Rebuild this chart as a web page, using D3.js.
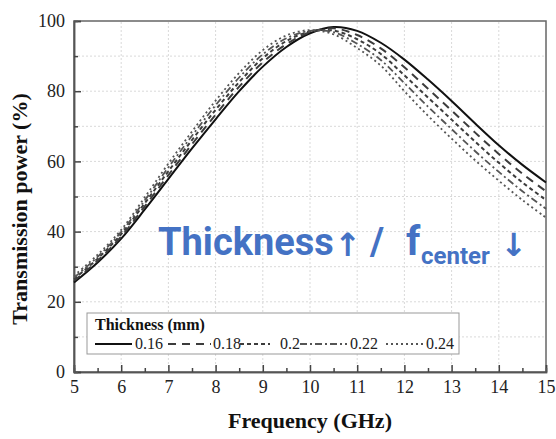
<!DOCTYPE html>
<html>
<head>
<meta charset="utf-8">
<script src="https://cdn.jsdelivr.net/npm/d3@7"></script>
<style>
  body { margin: 0; background: #fff; }
  svg { display: block; }
</style>
</head>
<body>
<div id="chart"></div>
<script>
// Values
const freq = [5, 5.5, 6, 6.5, 7, 7.5, 8, 8.5, 9, 9.5, 10, 10.5, 11, 11.5, 12, 12.5, 13, 13.5, 14, 14.5, 15];
const thickness = ["0.16", "0.18", "0.2", "0.22", "0.24"];
const t016 = [25.5, 31.2, 38.0, 46.3, 55.0, 63.7, 72.0, 80.0, 87.0, 92.6, 96.5, 98.3, 97.2, 93.8, 89.0, 83.3, 77.2, 70.8, 64.6, 59.0, 54.0];
const t018 = [26.0, 31.7, 38.6, 47.2, 56.1, 64.9, 73.3, 81.3, 88.2, 93.4, 96.8, 97.9, 96.0, 92.2, 86.8, 80.7, 74.5, 68.2, 62.1, 56.5, 51.5];
const t020 = [26.5, 32.3, 39.3, 48.1, 57.2, 66.1, 74.7, 82.6, 89.4, 94.3, 97.0, 97.3, 94.8, 90.6, 84.5, 78.2, 71.9, 65.6, 59.6, 54.0, 49.0];
const t022 = [26.9, 32.8, 39.9, 48.9, 58.3, 67.3, 76.0, 83.9, 90.5, 95.1, 97.2, 96.8, 93.5, 88.9, 82.3, 75.6, 69.2, 62.9, 57.0, 51.5, 46.5];
const t024 = [27.4, 33.4, 40.5, 49.8, 59.4, 68.5, 77.3, 85.2, 91.7, 95.9, 97.4, 96.2, 92.3, 87.3, 80.0, 73.0, 66.5, 60.3, 54.5, 49.0, 44.0];
const xTicks = [5, 6, 7, 8, 9, 10, 11, 12, 13, 14, 15];
const yTicks = [0, 20, 40, 60, 80, 100];

const seriesValues = [t016, t018, t020, t022, t024];
const dashes = [null, "8,6", "4,3", "7,3,2,3", "2,3"];
const colors = ["#111", "#3c3c3c", "#3c3c3c", "#555", "#555"];
const widths = [2, 2, 2, 1.8, 1.8];

const w = 556, h = 439;
const margin = { left: 74, right: 10, top: 21, bottom: 67 };
const serif = "'Liberation Serif', 'Times New Roman', serif";

const svg = d3.select("#chart").append("svg")
  .attr("width", w)
  .attr("height", h);

const x = d3.scaleLinear().domain([5, 15]).range([margin.left, w - margin.right]);
const y = d3.scaleLinear().domain([0, 100]).range([h - margin.bottom, margin.top]);

// grid
const grid = svg.append("g").attr("stroke", "#d9d9d9").attr("stroke-width", 1).attr("stroke-dasharray", "2,2");
grid.selectAll("line.vx")
  .data(d3.range(6, 15))
  .enter().append("line")
  .attr("x1", d => x(d)).attr("x2", d => x(d))
  .attr("y1", y(0)).attr("y2", y(100));
grid.selectAll("line.hy")
  .data(d3.range(10, 100, 10))
  .enter().append("line")
  .attr("x1", x(5)).attr("x2", x(15))
  .attr("y1", d => y(d)).attr("y2", d => y(d));

// frame
svg.append("rect")
  .attr("x", x(5)).attr("y", y(100))
  .attr("width", x(15) - x(5)).attr("height", y(0) - y(100))
  .attr("fill", "none").attr("stroke", "#666").attr("stroke-width", 1.5);

// axes with inward ticks
const xAxis = d3.axisBottom(x).tickValues(xTicks).tickSize(-7).tickPadding(8).tickFormat(d3.format("d"));
const xMinor = d3.axisBottom(x).tickValues(d3.range(5.5, 15, 1)).tickSize(-4).tickFormat("");
const yAxis = d3.axisLeft(y).tickValues(yTicks).tickSize(-7).tickPadding(9).tickFormat(d3.format("d"));
const yMinor = d3.axisLeft(y).tickValues(d3.range(10, 100, 20)).tickSize(-4).tickFormat("");

function styleAxis(g) {
  g.attr("font-family", serif).attr("font-size", 18);
  g.select(".domain").attr("stroke", "#555").attr("stroke-width", 1.5);
  g.selectAll(".tick line").attr("stroke", "#444").attr("stroke-width", 1.5);
  g.selectAll(".tick text").attr("fill", "#222");
}

svg.append("g").attr("transform", `translate(0,${y(0)})`).call(xAxis).call(styleAxis);
svg.append("g").attr("transform", `translate(0,${y(0)})`).call(xMinor).call(styleAxis);
svg.append("g").attr("transform", `translate(${x(5)},0)`).call(yAxis).call(styleAxis);
svg.append("g").attr("transform", `translate(${x(5)},0)`).call(yMinor).call(styleAxis);

// axis titles
svg.append("text")
  .attr("x", (x(5) + x(15)) / 2).attr("y", 428)
  .attr("text-anchor", "middle")
  .style("font-family", serif).style("font-weight", "bold").style("font-size", "22px")
  .attr("fill", "#111")
  .text("Frequency (GHz)");

svg.append("text")
  .attr("transform", "translate(27,209) rotate(-90)")
  .attr("text-anchor", "middle")
  .style("font-family", serif).style("font-weight", "bold").style("font-size", "22px")
  .attr("fill", "#111")
  .text("Transmission power (%)");

// curves
const line = d3.line()
  .x((d, i) => x(freq[i]))
  .y(d => y(d))
  .curve(d3.curveCatmullRom);

svg.append("g").selectAll("path")
  .data(seriesValues)
  .enter().append("path")
  .attr("d", d => line(d))
  .attr("fill", "none")
  .attr("stroke", (d, i) => colors[i])
  .attr("stroke-width", (d, i) => widths[i])
  .attr("stroke-dasharray", (d, i) => dashes[i]);

// annotation
const blue = "#4472C4";
const ann = svg.append("g").attr("fill", blue)
  .style("font-family", "Roboto, 'Open Sans', sans-serif").style("font-weight", "bold");
ann.append("text").attr("x", 158).attr("y", 255).style("font-size", "38px").text("Thickness");
ann.append("text").attr("x", 348).attr("y", 256).attr("text-anchor", "middle").style("font-size", "32px")
  .style("font-family", "'DejaVu Sans', sans-serif").text("↑");
ann.append("text").attr("x", 377).attr("y", 255).attr("text-anchor", "middle").style("font-size", "38px").text("/");
ann.append("text").attr("x", 406).attr("y", 255).style("font-size", "40px").text("f");
ann.append("text").attr("x", 421).attr("y", 264).style("font-size", "24px").text("center");
ann.append("text").attr("x", 514).attr("y", 256).attr("text-anchor", "middle").style("font-size", "32px")
  .style("font-family", "'DejaVu Sans', sans-serif").text("↓");

// legend
const legend = svg.append("g");
legend.append("rect")
  .attr("x", 87).attr("y", 313).attr("width", 372).attr("height", 41)
  .attr("fill", "#fff").attr("stroke", "#999").attr("stroke-width", 1);
legend.append("text")
  .attr("x", 95).attr("y", 330)
  .style("font-family", serif).style("font-weight", "bold").style("font-size", "16px")
  .attr("fill", "#111")
  .text("Thickness (mm)");

const sampleX = [[95, 132], [168, 211], [240, 270], [300, 347], [386, 423]];
const labelX = [135, 213, 280, 350, 426];
thickness.forEach((t, i) => {
  legend.append("line")
    .attr("x1", sampleX[i][0]).attr("x2", sampleX[i][1])
    .attr("y1", 344).attr("y2", 344)
    .attr("stroke", colors[i]).attr("stroke-width", widths[i])
    .attr("stroke-dasharray", dashes[i]);
  legend.append("text")
    .attr("x", labelX[i]).attr("y", 349)
    .style("font-family", serif).style("font-size", "16px")
    .attr("fill", "#222")
    .text(t);
});
</script>
</body>
</html>
